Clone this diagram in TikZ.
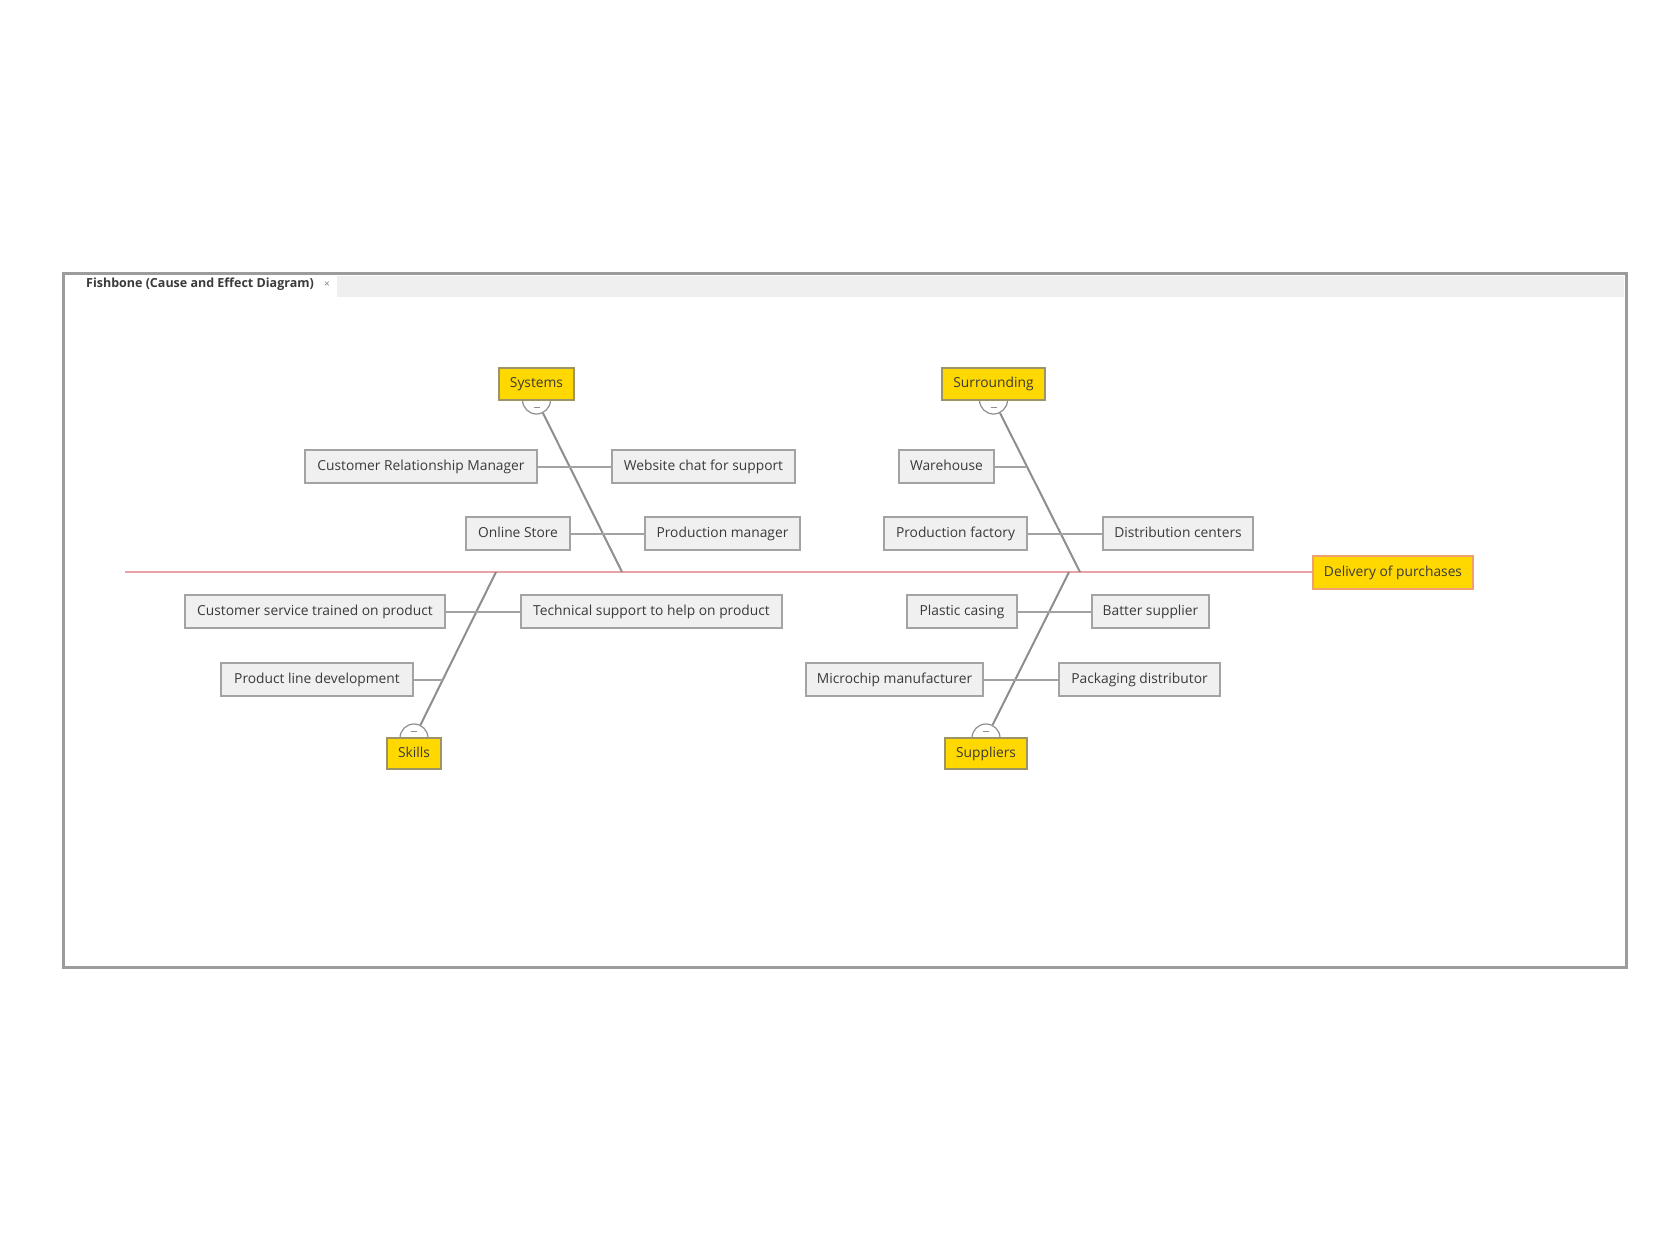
\documentclass[tikz,border=0pt]{standalone}
\usepackage{fontspec}
\setmainfont{Open Sans}
\definecolor{boxfill}{HTML}{F0F0F0}
\definecolor{boxline}{HTML}{A3A3A3}
\definecolor{txt}{HTML}{3A3A3A}
\definecolor{catfill}{HTML}{FFD800}
\definecolor{catline}{HTML}{9C9466}
\definecolor{delline}{HTML}{EFA070}
\definecolor{spinecol}{HTML}{E8A2A8}
\definecolor{boneline}{HTML}{8E8E8E}
\definecolor{twigline}{HTML}{A2A2A2}
\definecolor{framecol}{HTML}{9C9C9C}
\definecolor{tabgray}{HTML}{EFEFEF}
\begin{document}
\begin{tikzpicture}[x=1pt,y=-1pt,
  boxtext/.style={text=txt, font=\fontsize{13.8}{16}\selectfont, text height=10pt, text depth=3pt, inner sep=0pt},
  cause/.style={boxtext, draw=boxline, fill=boxfill, line width=1.5pt, minimum height=33pt},
  cat/.style={boxtext, draw=catline, fill=catfill, line width=1.5pt, minimum height=32pt},
  effect/.style={boxtext, draw=delline, fill=catfill, line width=1.5pt, minimum height=33pt},
  knob/.style={circle, draw=boneline, fill=white, line width=1.2pt, minimum size=28pt, inner sep=0pt},
  bone/.style={draw=boneline, line width=2pt},
  twig/.style={draw=twigline, line width=2pt},
  spine/.style={draw=spinecol, line width=1.5pt},
]
\useasboundingbox (0,0) rectangle (1676,1247);
\fill[white] (0,0) rectangle (1676,1247);
% window frame and tab strip
\fill[tabgray] (337,276) rectangle (1624,297);
\draw[framecol, line width=3pt] (63,273) rectangle (1626,967);
\node[font=\bfseries\fontsize{12.5}{14}\selectfont, text=txt, inner sep=0pt] (tab) at (200,284) {Fishbone (Cause and Effect Diagram)};
\node[font=\fontsize{10}{12}\selectfont, text=gray, inner sep=0pt] (tabx) at (327,285) {×};

% effect and spine
\node[effect, minimum width=160pt] (deliv) at (1393,572.5) {Delivery of purchases};
\coordinate (tail) at (125,572);
\coordinate (sysj) at (622,572);
\coordinate (skij) at (496,572);
\coordinate (surj) at (1080,572);
\coordinate (supj) at (1069,572);
\draw[spine] (tail) -- (deliv.west |- tail);

% knobs
\node[knob] (sysk) at (536.5,400) {};
\node[knob] (surk) at (993.5,400) {};
\node[knob] (skik) at (414,738) {};
\node[knob] (supk) at (986,738) {};
\draw[boneline, line width=1pt] (533.5,407) -- (539.5,407);
\draw[boneline, line width=1pt] (990.5,407) -- (996.5,407);
\draw[boneline, line width=1pt] (411,731) -- (417,731);
\draw[boneline, line width=1pt] (983,731) -- (989,731);

% bones
\draw[bone] (sysk) -- (sysj);
\draw[bone] (surk) -- (surj);
\draw[bone] (skik) -- (skij);
\draw[bone] (supk) -- (supj);

% category boxes
\node[cat, minimum width=75pt] (sys) at (536.5,384) {Systems};
\node[cat, minimum width=103pt] (sur) at (993.5,384) {Surrounding};
\node[cat, minimum width=54pt, minimum height=31pt] (ski) at (414,753.5) {Skills};
\node[cat, minimum width=82pt, minimum height=31pt] (sup) at (986,753.5) {Suppliers};

% causes
\node[cause, minimum width=232pt] (crm) at (421,466.5) {Customer Relationship Manager};
\node[cause, minimum width=183pt] (web) at (703.5,466.5) {Website chat for support};
\node[cause, minimum width=104pt] (onl) at (518,533.5) {Online Store};
\node[cause, minimum width=155pt] (pman) at (722.5,533.5) {Production manager};
\node[cause, minimum width=95pt] (ware) at (946.5,466.5) {Warehouse};
\node[cause, minimum width=143pt] (pfac) at (955.5,533.5) {Production factory};
\node[cause, minimum width=150pt] (dist) at (1178,533.5) {Distribution centers};
\node[cause, minimum width=260pt] (cstp) at (315,611.5) {Customer service trained on product};
\node[cause, minimum width=261pt] (tech) at (651.5,611.5) {Technical support to help on product};
\node[cause, minimum width=192pt] (pld) at (317,679.5) {Product line development};
\node[cause, minimum width=110pt] (plas) at (962,611.5) {Plastic casing};
\node[cause, minimum width=117pt] (batt) at (1150.5,611.5) {Batter supplier};
\node[cause, minimum width=177pt] (micro) at (894.5,679.5) {Microchip manufacturer};
\node[cause, minimum width=161pt] (pack) at (1139.5,679.5) {Packaging distributor};

% twigs
\coordinate (warej) at (1027,466.5);
\coordinate (pldj) at (443,679.5);
\draw[twig] (crm) -- (web);
\draw[twig] (onl) -- (pman);
\draw[twig] (ware) -- (warej);
\draw[twig] (pfac) -- (dist);
\draw[twig] (cstp) -- (tech);
\draw[twig] (pld) -- (pldj);
\draw[twig] (plas) -- (batt);
\draw[twig] (micro) -- (pack);
\end{tikzpicture}
\end{document}
